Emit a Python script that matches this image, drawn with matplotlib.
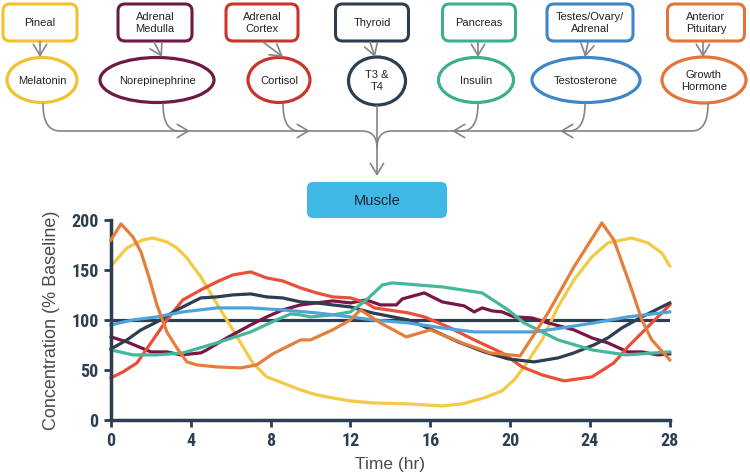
import matplotlib
matplotlib.use('Agg')
import matplotlib.pyplot as plt
from matplotlib.patches import FancyBboxPatch, Ellipse, FancyArrowPatch
from matplotlib.path import Path

plt.rcParams['font.family'] = ['Liberation Sans', 'DejaVu Sans']

# 腺体 / 激素
glands = ['Pineal', 'Adrenal\nMedulla', 'Adrenal\nCortex', 'Thyroid', 'Pancreas',
          'Testes/Ovary/\nAdrenal', 'Anterior\nPituitary']
hormones = ['Melatonin', 'Norepinephrine', 'Cortisol', 'T3 &\nT4', 'Insulin',
            'Testosterone', 'Growth\nHormone']
target = 'Muscle'

# 曲线数据 (小时, % baseline)
mel_t = [0, 0.8, 1.6, 2.1, 2.8, 3.3, 3.8, 4.5, 5.1, 5.8, 6.5, 7.1, 7.8, 8.6, 9.5, 10.3, 11.1, 12,
         13.1, 14.9, 16.6, 17.6, 18.7, 19.6, 20.2, 20.7, 21.6, 22.4, 23.2, 24.1, 24.9, 26.1, 26.9, 27.6, 28]
mel_v = [154, 172, 180, 182, 178, 172, 162, 143, 123, 100, 77, 57, 43, 37, 30, 25, 22, 19,
         17, 16, 14, 16, 22, 29, 40, 53, 80, 113, 140, 163, 177, 182, 177, 167, 154]

nor_t = [0, 0.8, 2.0, 2.8, 3.5, 4.5, 4.8, 5.8, 7.0, 7.8, 8.6, 9.5, 10.3, 11.1, 12, 12.8, 13.5, 14.3,
         14.6, 15.7, 16.6, 17.7, 18.2, 18.6, 19.1, 19.6, 20.2, 21.1, 21.9, 23.2, 24.1, 24.9, 25.9,
         26.6, 27.4, 28]
nor_v = [83, 78, 68, 68, 65, 67, 70, 82, 95, 103, 110, 115, 117, 119, 117, 120, 115, 115,
         121, 127, 118, 114, 108, 112, 109, 108, 103, 102, 97, 90, 82, 77, 68,
         68, 65, 66]

cor_t = [0, 0.6, 1.3, 2.0, 2.8, 3.6, 4.5, 5.3, 6.1, 7.0, 7.8, 8.6, 9.5, 10.3, 11.1, 12, 12.8,
         13.2, 14.9, 15.7, 16.9, 18.2, 19.6, 20.6, 21.6, 22.7, 24.1, 25.2, 25.9, 26.9, 28]
cor_v = [42, 48, 57, 77, 100, 120, 130, 138, 145, 148, 142, 139, 132, 127, 123, 122, 117,
         112, 107, 103, 93, 80, 67, 53, 45, 39, 43, 57, 73, 93, 115]

thy_t = [0, 0.8, 1.5, 2.3, 3.3, 4.5, 5.3, 6.1, 7.0, 7.8, 8.6, 9.5, 10.3, 11.1, 12, 13.1,
         14.9, 16.1, 17.4, 18.7, 19.9, 21.2, 22.4, 23.2, 24.2, 24.9, 25.6, 26.6, 28]
thy_v = [71, 80, 90, 98, 110, 122, 123, 125, 126, 123, 122, 118, 117, 115, 113, 107,
         100, 90, 78, 68, 61, 58, 62, 67, 75, 82, 92, 103, 117]

ins_t = [0, 1.1, 2.3, 3.6, 5.3, 7.0, 8.3, 9.0, 9.5, 10.0, 11.1, 12, 12.8, 13.6, 14.1, 16.6,
         18.6, 19.9, 20.7, 22.4, 24.1, 25.8, 28]
ins_v = [70, 65, 65, 67, 77, 88, 100, 106, 105, 103, 105, 108, 120, 135, 137, 133,
         127, 110, 97, 80, 70, 65, 68]

tes_t = [0, 1.1, 2.3, 3.6, 5.3, 7.0, 8.6, 10.3, 12, 13.1, 14.9, 16.6, 18.2, 19.9, 21.2, 22.6,
         24.2, 25.9, 28]
tes_v = [95, 100, 103, 108, 112, 112, 110, 107, 103, 100, 97, 92, 88, 88, 88, 92,
         97, 103, 108]

gh_t = [0, 0.5, 1.1, 1.5, 1.9, 2.3, 2.8, 3.3, 3.8, 4.3, 5.3, 6.5, 7.3, 8.1, 8.8, 9.5, 10.0,
        11.1, 12, 12.5, 13.5, 14.8, 16.0, 17.6, 19.0, 20.5, 21.9, 23.2, 24.6, 25.2, 26.1,
        26.6, 27.1, 28]
gh_v = [180, 196, 183, 168, 143, 115, 88, 72, 58, 55, 53, 52, 55, 66, 73, 80, 80,
        90, 100, 110, 97, 83, 90, 77, 67, 64, 107, 153, 197, 180, 130,
        100, 80, 60]

baseline = 100
x_ticks = [0, 4, 8, 12, 16, 20, 24, 28]
y_ticks = [0, 50, 100, 150, 200]

box_cols = ['#F2C12E', '#6E1A45', '#C9352B', '#2C3E50', '#3DAE8E', '#3E86C6', '#E2763A']
line_cols = ['#F3C945', '#7A1645', '#E8503A', '#2C3E50', '#45B79A', '#4DA3DB', '#E67E3B']
navy = '#2C3E50'
grey = '#858585'

fig = plt.figure(figsize=(7.5, 4.75), dpi=100)

# ---- 上半部分示意图 (像素坐标)
ax0 = fig.add_axes([0, 0, 1, 1])
ax0.set_xlim(0, 750)
ax0.set_ylim(475, 0)
ax0.axis('off')

box_cx = [40, 155, 262, 372, 479, 590, 706]
box_w = [74, 74, 72, 73, 73, 86, 77]
ell_cx = [42, 157, 279, 377, 476, 586, 704]
ell_w = [70, 114, 62, 57, 75, 108, 84]
ell_h = [45, 45, 45, 48, 45, 45, 46]
box_arrow_x = [(40, 40), (154, 162), (263, 283), (370, 375), (478, 478), (588, 585), (703, 703)]

arr = '->,head_length=5,head_width=3'
for i in range(len(glands)):
    ax0.add_patch(FancyBboxPatch((box_cx[i] - box_w[i] / 2 + 3, 7), box_w[i] - 6, 31,
                                 boxstyle='round,pad=3,rounding_size=7', fc='white',
                                 ec=box_cols[i], lw=2.2))
    ax0.text(box_cx[i], 23, glands[i], ha='center', va='center', fontsize=8,
             color='#222222', linespacing=1.15)
    ax0.add_patch(Ellipse((ell_cx[i], 80 if i != 3 else 81), ell_w[i], ell_h[i],
                          fc='white', ec=box_cols[i], lw=2.3))
    ax0.text(ell_cx[i], 81, hormones[i], ha='center', va='center', fontsize=8,
             color='#222222', linespacing=1.15)
    x1, x2 = box_arrow_x[i]
    ax0.add_patch(FancyArrowPatch((x1, 42), (x2, 57), arrowstyle=arr, color=grey,
                                  lw=1.2, shrinkA=0, shrinkB=0, mutation_scale=1.6))

# 主干连线
trunk_y = 131
left_path = Path([(43, 104), (43, trunk_y), (60, trunk_y), (362, trunk_y), (377, trunk_y), (377, 148)],
                 [Path.MOVETO, Path.CURVE3, Path.CURVE3, Path.LINETO, Path.CURVE3, Path.CURVE3])
right_path = Path([(708, 104), (708, trunk_y), (692, trunk_y), (392, trunk_y), (377, trunk_y), (377, 148)],
                  [Path.MOVETO, Path.CURVE3, Path.CURVE3, Path.LINETO, Path.CURVE3, Path.CURVE3])
for p in (left_path, right_path):
    ax0.add_patch(FancyArrowPatch(path=p, arrowstyle='-', color=grey, lw=1.2))
ax0.add_patch(FancyArrowPatch((377, 106), (377, 176), arrowstyle=arr, color=grey,
                              lw=1.2, shrinkA=0, shrinkB=0, mutation_scale=1.6))

# 分支
branches = [(163, 190), (283, 310), (478, 452), (585, 560)]
for bx, ex in branches:
    d = 1 if ex > bx else -1
    p = Path([(bx, 104), (bx, trunk_y), (bx + d * 16, trunk_y), (ex, trunk_y)],
             [Path.MOVETO, Path.CURVE3, Path.CURVE3, Path.LINETO])
    ax0.add_patch(FancyArrowPatch(path=p, arrowstyle=arr, color=grey, lw=1.2,
                                  mutation_scale=1.6))

ax0.add_patch(FancyBboxPatch((311, 186), 132, 28, boxstyle='round,pad=4,rounding_size=6',
                             fc='#40B8E6', ec='none'))
ax0.text(377, 201, target, ha='center', va='center', fontsize=10.5, color='#1C2535')

# ---- 下半部分折线图
ax = fig.add_axes([0.148, 0.116, 0.745, 0.421])
ax.axhline(baseline, color=navy, lw=2.3, zorder=1)
series = [(mel_t, mel_v), (nor_t, nor_v), (cor_t, cor_v), (thy_t, thy_v),
          (ins_t, ins_v), (tes_t, tes_v), (gh_t, gh_v)]
order = [5, 4, 6, 2, 3, 1, 0]
for i in order:
    t, v = series[i]
    ax.plot(t, v, color=line_cols[i], lw=2.3, clip_on=False, zorder=2 + i * 0.1,
            solid_joinstyle='round')

ax.set_xlim(0, 28)
ax.set_ylim(0, 200)
ax.set_xticks(x_ticks)
ax.set_yticks(y_ticks)
for s in ['top', 'right']:
    ax.spines[s].set_visible(False)
for s in ['left', 'bottom']:
    ax.spines[s].set_color(navy)
    ax.spines[s].set_linewidth(2.5)
ax.tick_params(colors=navy, width=2, length=5, direction='out', pad=4)
for lab in ax.get_xticklabels() + ax.get_yticklabels():
    lab.set_family(['Roboto Condensed', 'Liberation Sans Narrow', 'Liberation Sans', 'DejaVu Sans'])
    lab.set_fontweight('bold')
    lab.set_fontsize(13)
ax.set_xlabel('Time (hr)', fontsize=12.5, color='#4A4A4A', labelpad=5)
ax.set_ylabel('Concentration (% Baseline)', fontsize=13, color='#4A4A4A', labelpad=8)

fig.savefig('out.png', dpi=100)
